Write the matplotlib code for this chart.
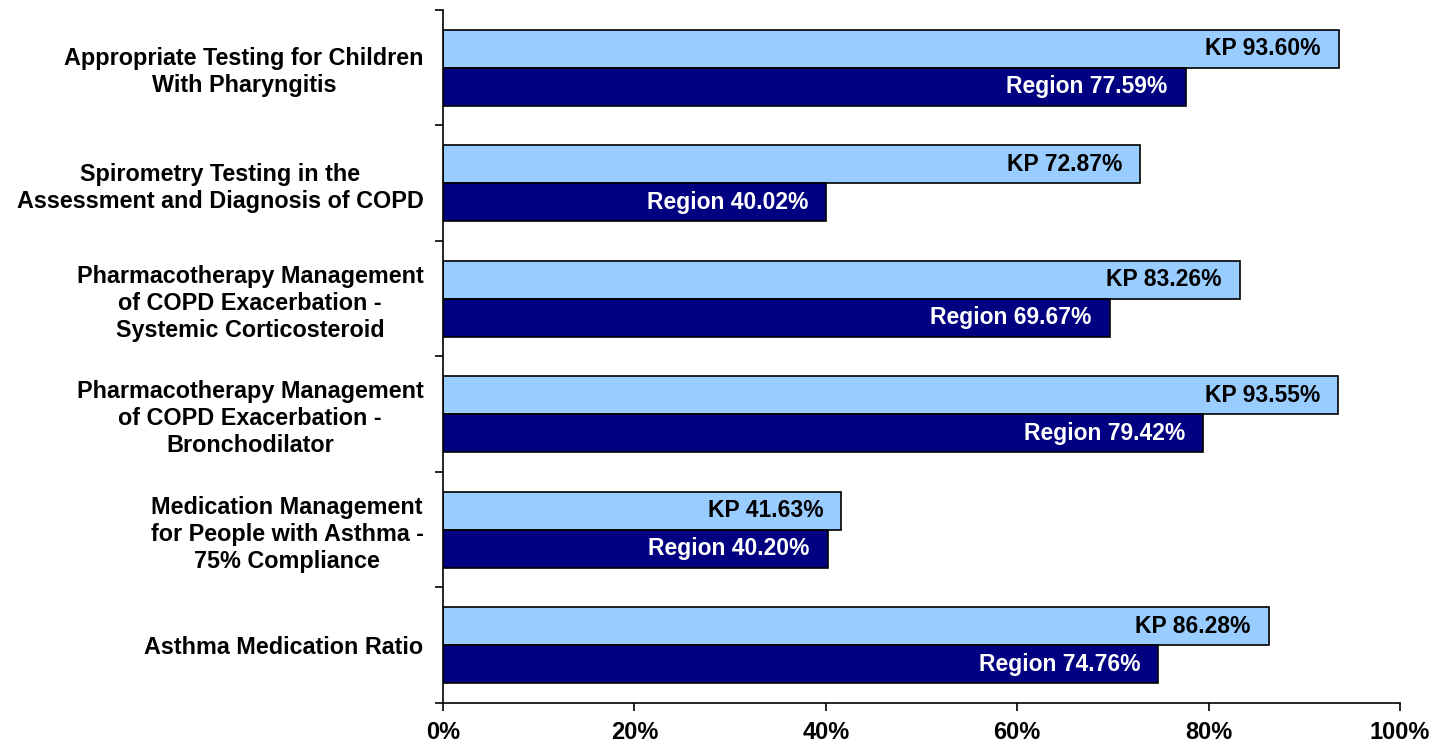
#! /usr/bin/env python3

import matplotlib
matplotlib.use("Agg")
import matplotlib.pyplot as plt
import numpy as np

plt.rcParams['font.family'] = ['Liberation Sans', 'DejaVu Sans']
plt.rcParams['font.weight'] = 'bold'

categories = [
    "Appropriate Testing for Children\nWith Pharyngitis",
    "Spirometry Testing in the\nAssessment and Diagnosis of COPD",
    "Pharmacotherapy Management\nof COPD Exacerbation -\nSystemic Corticosteroid",
    "Pharmacotherapy Management\nof COPD Exacerbation -\nBronchodilator",
    "Medication Management\nfor People with Asthma -\n75% Compliance",
    "Asthma Medication Ratio",
]
kp = [93.60, 72.87, 83.26, 93.55, 41.63, 86.28]
region = [77.59, 40.02, 69.67, 79.42, 40.20, 74.76]
xticks = [0, 20, 40, 60, 80, 100]

fig = plt.figure(figsize=(14.42, 7.44), dpi=100)
ax = fig.add_axes([0.3072, 0.0551, 0.6637, 0.9315])

n = len(categories)
y = np.arange(n)
h = 0.33

ax.barh(y - h / 2, kp, height=h, color="#99CCFF", edgecolor="black", linewidth=1.2)
ax.barh(y + h / 2, region, height=h, color="#000080", edgecolor="black", linewidth=1.2)

# value labels inside the bar ends
for i in range(n):
    ax.annotate("KP {:.2f}%".format(kp[i]), (kp[i], y[i] - h / 2),
                xytext=(-18, 0), textcoords="offset pixels",
                ha="right", va="center", fontsize=16.5, color="black", fontweight="bold")
    ax.annotate("Region {:.2f}%".format(region[i]), (region[i], y[i] + h / 2),
                xytext=(-18, 0), textcoords="offset pixels",
                ha="right", va="center", fontsize=16.5, color="white", fontweight="bold")

ax.set_ylim(n - 0.5, -0.5)
ax.set_xlim(0, 100)

ax.set_yticks(y)
ax.set_yticklabels(categories, fontsize=16.8, fontweight="bold", multialignment="center", linespacing=1.22)
ax.set_yticks(np.arange(-0.5, n, 1), minor=True)
ax.tick_params(axis="y", which="major", length=0, pad=14)
ax.tick_params(axis="y", which="minor", length=6, width=1.2, direction="out")

ax.set_xticks(xticks)
ax.set_xticklabels(["{}%".format(t) for t in xticks], fontsize=17, fontweight="bold")
ax.tick_params(axis="x", length=6, width=1.2, direction="out", pad=7)

ax.spines["top"].set_visible(False)
ax.spines["right"].set_visible(False)
ax.spines["left"].set_linewidth(1.2)
ax.spines["bottom"].set_linewidth(1.2)

plt.savefig("out.png", dpi=100)
